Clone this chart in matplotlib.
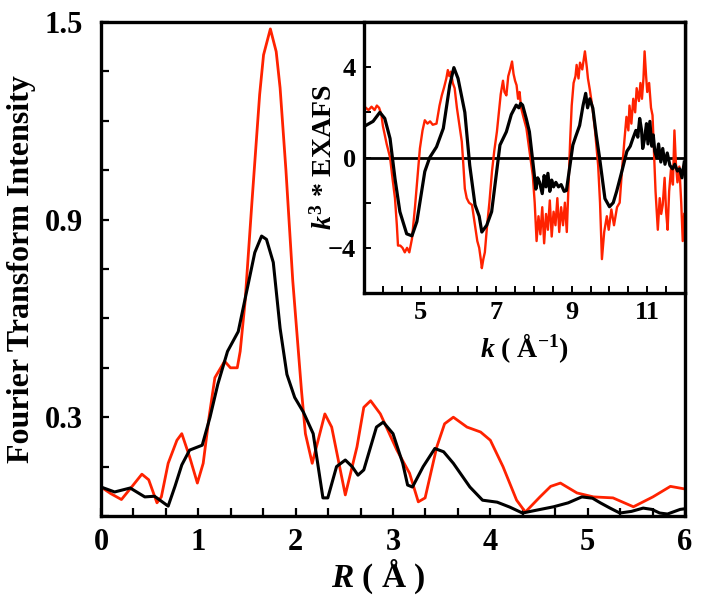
import matplotlib
matplotlib.use("Agg")
import matplotlib.pyplot as plt
from matplotlib.ticker import MultipleLocator

plt.rcParams['font.family'] = ['Liberation Serif', 'DejaVu Serif']
plt.rcParams['font.weight'] = 'bold'
plt.rcParams['mathtext.fontset'] = 'custom'
plt.rcParams['mathtext.rm'] = 'Liberation Serif:bold'
plt.rcParams['mathtext.it'] = 'Liberation Serif:bold:italic'
plt.rcParams['mathtext.bf'] = 'Liberation Serif:bold'

RED = '#ff2200'

# ---- Main panel: Fourier transform ----
r_red = [0.00, 0.10, 0.21, 0.32, 0.42, 0.49, 0.575, 0.62, 0.69, 0.78, 0.83, 0.91, 0.99, 1.05,
         1.11, 1.17, 1.27, 1.33, 1.40, 1.43, 1.48, 1.55, 1.63, 1.67, 1.74, 1.80, 1.84, 1.90,
         1.97, 2.06, 2.10, 2.17, 2.30, 2.37, 2.51, 2.63, 2.70, 2.77, 2.87, 3.04, 3.17, 3.26,
         3.33, 3.45, 3.53, 3.62, 3.76, 3.90, 4.00, 4.13, 4.27, 4.36, 4.51, 4.62, 4.72, 4.89,
         5.06, 5.26, 5.47, 5.67, 5.85, 6.00]
i_red = [0.088, 0.068, 0.050, 0.090, 0.127, 0.110, 0.040, 0.058, 0.160, 0.230, 0.250, 0.180, 0.100, 0.160,
         0.300, 0.420, 0.470, 0.450, 0.450, 0.500, 0.650, 0.950, 1.280, 1.400, 1.479, 1.410, 1.300, 1.050,
         0.715, 0.380, 0.250, 0.160, 0.310, 0.270, 0.064, 0.210, 0.330, 0.350, 0.310, 0.200, 0.130, 0.043,
         0.055, 0.210, 0.280, 0.300, 0.270, 0.255, 0.230, 0.150, 0.048, 0.012, 0.058, 0.090, 0.100, 0.070,
         0.058, 0.055, 0.028, 0.058, 0.090, 0.082]

r_blk = [0.00, 0.14, 0.30, 0.45, 0.55, 0.69, 0.76, 0.83, 0.91, 1.04, 1.12, 1.20, 1.30, 1.41, 1.52, 1.58,
         1.65, 1.70, 1.77, 1.84, 1.91, 1.99, 2.08, 2.18, 2.28, 2.33, 2.42, 2.51, 2.58, 2.64, 2.70,
         2.83, 2.90, 3.00, 3.10, 3.15, 3.20, 3.31, 3.43, 3.52, 3.62, 3.79, 3.92, 4.07, 4.20, 4.33,
         4.48, 4.65, 4.80, 4.94, 5.05, 5.13, 5.23, 5.33, 5.45, 5.57, 5.66, 5.74, 5.82, 5.95, 6.00]
i_blk = [0.088, 0.073, 0.085, 0.058, 0.060, 0.030, 0.090, 0.155, 0.200, 0.215, 0.300, 0.400, 0.500, 0.560, 0.715, 0.800,
         0.850, 0.840, 0.770, 0.570, 0.430, 0.360, 0.315, 0.250, 0.055, 0.055, 0.150, 0.170, 0.150, 0.124, 0.140,
         0.270, 0.285, 0.250, 0.160, 0.094, 0.088, 0.150, 0.205, 0.195, 0.160, 0.088, 0.048, 0.042, 0.027, 0.009,
         0.018, 0.028, 0.040, 0.058, 0.054, 0.040, 0.024, 0.009, 0.014, 0.024, 0.020, 0.009, 0.006, 0.020, 0.022]

# ---- Inset: k^3 EXAFS ----
k_red = [3.55, 3.62, 3.70, 3.78, 3.84, 3.90, 3.96, 4.00, 4.10, 4.19, 4.26, 4.32, 4.37, 4.40, 4.46, 4.52,
         4.58, 4.64, 4.70, 4.77, 4.85, 4.92, 4.98, 5.05, 5.11, 5.18, 5.25, 5.32, 5.42, 5.50, 5.56, 5.62,
         5.68, 5.72, 5.76, 5.80, 5.85, 5.90, 5.96, 6.02, 6.09, 6.13, 6.17, 6.22, 6.28, 6.36, 6.42, 6.50,
         6.55, 6.60, 6.62, 6.66, 6.70, 6.76, 6.82, 6.89, 6.95, 7.02, 7.07, 7.12, 7.18, 7.22, 7.27, 7.32,
         7.37, 7.42, 7.46, 7.50, 7.54, 7.58, 7.62, 7.66, 7.72, 7.80, 7.88, 7.97, 8.02, 8.07, 8.12, 8.17,
         8.22, 8.27, 8.32, 8.37, 8.42, 8.47, 8.52, 8.57, 8.62, 8.67, 8.72, 8.77, 8.82, 8.87, 8.92, 8.96,
         9.00, 9.05, 9.10, 9.13, 9.18, 9.22, 9.28, 9.35, 9.40, 9.43, 9.48, 9.55, 9.62, 9.70, 9.75, 9.80,
         9.86, 9.93, 9.98, 10.05, 10.12, 10.20, 10.27, 10.33, 10.40, 10.45, 10.50, 10.53, 10.58, 10.63,
         10.68, 10.72, 10.78, 10.82, 10.86, 10.90, 10.93, 10.97, 11.00, 11.05, 11.10, 11.14, 11.18, 11.22,
         11.28, 11.33, 11.37, 11.41, 11.46, 11.50, 11.54, 11.58, 11.63, 11.68, 11.72, 11.76, 11.80, 11.85,
         11.90, 11.94, 11.98]
e_red = [2.2, 2.1, 2.25, 2.1, 2.3, 2.2, 1.9, 1.4, 0.6, 0.0, -1.0, -1.8, -3.0, -3.9, -3.9, -4.0,
         -4.2, -4.0, -4.2, -3.6, -2.2, -0.8, 0.4, 1.2, 1.65, 1.5, 1.6, 1.45, 1.5, 2.3, 2.75, 3.1,
         3.5, 3.87, 3.6, 3.8, 3.3, 3.07, 2.2, 1.5, 0.7, -0.3, -1.38, -1.8, -2.0, -2.1, -2.8, -3.7,
         -4.0, -4.6, -4.9, -4.5, -4.2, -3.0, -2.0, -0.6, 0.3, 1.15, 2.0, 2.8, 3.4, 2.9, 2.75, 3.6,
         3.9, 4.25, 3.7, 3.4, 3.2, 2.6, 2.9, 2.2, 1.8, 1.3, 0.3, -0.8, -2.0, -3.7, -2.6, -3.4,
         -2.2, -3.8, -2.5, -3.2, -1.9, -3.5, -2.4, -3.0, -1.8, -3.3, -2.2, -3.0, -2.0, -3.3, -1.0, 0.8,
         2.3, 3.3, 3.6, 4.1, 3.5, 4.2, 3.9, 4.7, 4.0, 3.5, 3.0, 2.2, 1.15, -0.35, -2.0, -4.5,
         -3.3, -2.6, -3.2, -2.3, -3.0, -2.2, -2.0, -0.6, 0.85, 1.8, 1.2, 2.3, 1.5, 2.6,
         2.0, 3.07, 2.5, 3.3, 2.6, 3.5, 4.7, 3.6, 2.9, 3.3, 2.2, 1.87, 0.2, -1.5,
         -3.2, -1.8, -2.5, -2.1, -0.9, -2.4, -3.2, -1.5, -0.5, -1.2, 1.2, -0.3, -1.1, -0.4,
         -2.0, -3.7, -2.5]

k_blk = [3.55, 3.74, 3.92, 4.05, 4.19, 4.32, 4.45, 4.63, 4.77, 4.90, 5.11, 5.24, 5.42, 5.60, 5.77,
         5.88, 5.99, 6.17, 6.30, 6.44, 6.55, 6.62, 6.75, 6.88, 7.10, 7.27, 7.40, 7.53, 7.60, 7.65,
         7.70, 7.80, 7.88, 8.00, 8.05, 8.10, 8.15, 8.22, 8.27, 8.32, 8.37, 8.42, 8.47, 8.52, 8.58,
         8.65, 8.72, 8.80, 8.86, 8.95, 9.03, 9.10, 9.21, 9.30, 9.37, 9.42, 9.48, 9.56, 9.65, 9.74,
         9.88, 10.00, 10.10, 10.19, 10.33, 10.46, 10.55, 10.62, 10.70, 10.75, 10.80, 10.85, 10.88,
         10.93, 10.98, 11.02, 11.07, 11.12, 11.16, 11.20, 11.25, 11.30, 11.36, 11.41, 11.47, 11.53,
         11.60, 11.67, 11.73, 11.80, 11.86, 11.92, 11.98]
e_blk = [1.42, 1.6, 2.0, 1.73, 0.84, -0.93, -2.4, -3.38, -3.47, -2.84, -0.62, 0.0, 0.47, 1.29, 3.2,
         3.98, 3.5, 2.0, -0.35, -2.1, -2.6, -3.3, -3.0, -2.4, 0.55, 1.14, 1.9, 2.32, 2.2, 2.4,
         2.32, 1.7, 1.14, -0.62, -1.4, -0.9, -1.1, -1.6, -0.8, -1.3, -0.7, -1.5, -1.0, -1.3, -1.1,
         -1.3, -1.2, -1.5, -1.46, -0.4, 0.55, 0.9, 1.42, 2.3, 2.84, 2.2, 2.6, 2.18, 1.0, -0.04,
         -1.82, -2.18, -2.0, -1.5, -0.6, 0.27, 0.5, 0.84, 1.2, 0.9, 1.73, 1.2, 0.4,
         0.84, 1.5, 0.6, 1.6, 0.5, 1.0, 0.27, 0.0, 0.6, -0.2, 0.4, -0.3, 0.2,
         -0.35, -0.5, -0.3, -0.6, -0.5, -0.9, -0.2]

main_xticks = [0, 1, 2, 3, 4, 5, 6]
main_yticks = [0.3, 0.9, 1.5]
main_ylabels = ['0.3', '0.9', '1.5']
inset_xticks = [5, 7, 9, 11]
inset_yticks = [-4, 0, 4]

fig = plt.figure(figsize=(7.03, 6.12), dpi=100)
ax = fig.add_axes([101/703, 1-516/612, (685-101)/703, (516-22)/612])
ax.plot(r_red, i_red, color=RED, lw=2.0, solid_joinstyle='round')
ax.plot(r_blk, i_blk, color='black', lw=2.2, solid_joinstyle='round')
ax.set_xlim(0, 6)
ax.set_ylim(0, 1.5)
ax.set_xticks(main_xticks)
ax.set_yticks(main_yticks)
ax.set_yticklabels(main_ylabels)
ax.xaxis.set_minor_locator(MultipleLocator(1/3))
ax.yaxis.set_minor_locator(MultipleLocator(0.15))
ax.tick_params(which='both', direction='in', length=6, width=1.6, top=False, right=False)
ax.tick_params(axis='x', labelsize=22, pad=9)
ax.tick_params(axis='y', labelsize=22, pad=13)
for s in ax.spines.values():
    s.set_linewidth(2.4)
ax.set_xlabel(r'$R$ ( Å )', fontsize=24, fontweight='bold', labelpad=0)
ax.xaxis.label.set_x(0.474)
ax.set_ylabel('Fourier Transform Intensity', fontsize=23, fontweight='bold', labelpad=6)

ins = fig.add_axes([364/703, 1-293/612, (685-364)/703, (293-22)/612])
ins.set_facecolor('white')
ins.axhline(0, color='black', lw=2.0)
ins.plot(k_red, e_red, color=RED, lw=1.7)
ins.plot(k_blk, e_blk, color='black', lw=2.3)
ins.set_xlim(3.5, 12)
ins.set_ylim(-6, 6)
ins.set_xticks(inset_xticks)
ins.set_yticks(inset_yticks)
ins.xaxis.set_minor_locator(MultipleLocator(0.5))
ins.yaxis.set_minor_locator(MultipleLocator(2))
ins.tick_params(which='both', direction='in', length=5, width=1.4, top=False, right=False,
                labelsize=19, pad=6)
for s in ins.spines.values():
    s.set_linewidth(2.4)
ins.set_xlabel(r'$k$ ( Å$^{-1}$)', fontsize=20, fontweight='bold', labelpad=5)
ins.set_ylabel(r'$k^{3}$ * EXAFS', fontsize=20, fontweight='bold', labelpad=-7)

fig.savefig('out.png', dpi=100)
